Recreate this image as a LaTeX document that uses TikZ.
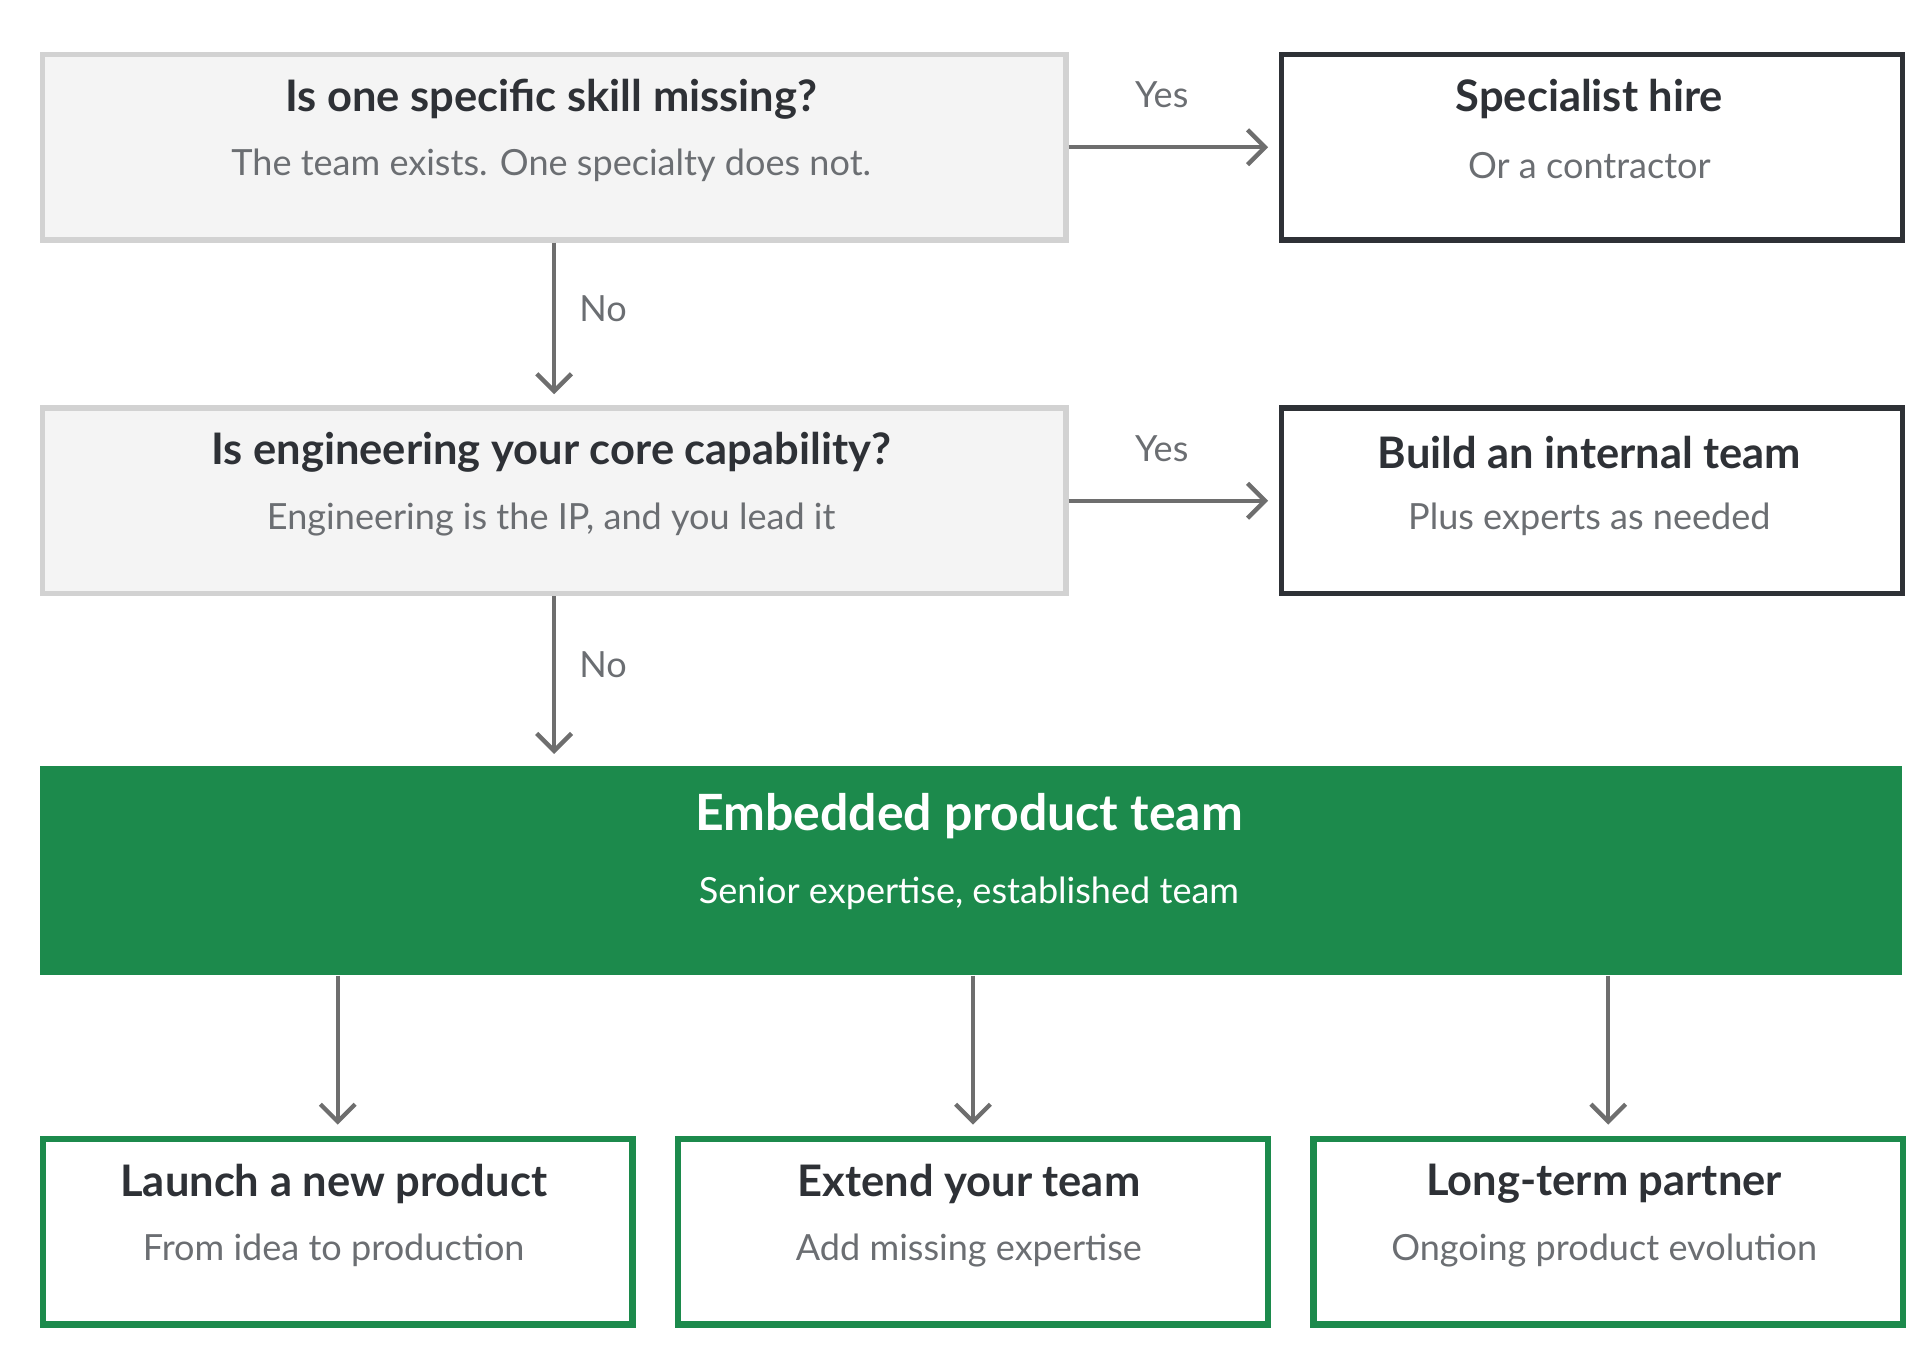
\documentclass[tikz,border=0pt]{standalone}
\usepackage{fontspec}
\setmainfont{Lato}
\usetikzlibrary{arrows.meta}
\definecolor{qfill}{HTML}{F4F4F4}
\definecolor{qline}{HTML}{D2D2D2}
\definecolor{dark}{HTML}{2E3136}
\definecolor{sub}{HTML}{6B6E72}
\definecolor{green}{HTML}{1C8A4C}
\definecolor{arr}{HTML}{6E6E6E}
\tikzset{
  qbox/.style={draw=qline,fill=qfill,line width=1.2pt,minimum width=8.28cm,minimum height=1.5cm,anchor=north west},
  abox/.style={draw=dark,line width=1.2pt,minimum width=5.02cm,minimum height=1.5cm,anchor=north west},
  gbox/.style={draw=green,line width=1.5pt,minimum width=4.77cm,minimum height=1.5cm,anchor=north west},
  ttl/.style={font=\bfseries\fontsize{10pt}{12pt}\selectfont,text=dark},
  subt/.style={font=\fontsize{8.3pt}{10pt}\selectfont,text=sub},
  lbl/.style={font=\fontsize{8.3pt}{10pt}\selectfont,text=sub},
  link/.style={draw=arr,line width=1pt,-{Straight Barb[length=4pt,width=8pt]},shorten >=0.09cm}
}
\begin{document}
\begin{tikzpicture}[x=0.01cm,y=-0.01cm]
  \useasboundingbox (0,0) rectangle (1560,1104);
  % questions
  \node[qbox] (q1) at (32,42) {};
  \node[ttl] (q1t) at (446,80) {Is one specific skill missing?};
  \node[subt] (q1s) at (446,134) {The team exists. One specialty does not.};
  \node[qbox] (q2) at (32,328) {};
  \node[ttl] (q2t) at (446,366) {Is engineering your core capability?};
  \node[subt] (q2s) at (446,420) {Engineering is the IP, and you lead it};
  % answers
  \node[abox] (spec) at (1035,42) {};
  \node[ttl] (spect) at (1286,80) {Specialist hire};
  \node[subt] (specs) at (1286,134) {Or a contractor};
  \node[abox] (build) at (1035,328) {};
  \node[ttl] (buildt) at (1286,366) {Build an internal team};
  \node[subt] (builds) at (1286,420) {Plus experts as needed};
  % embedded
  \node[fill=green,minimum width=15.05cm,minimum height=1.69cm,anchor=north west] (emb) at (32,619) {};
  \node[ttl,text=white,font=\bfseries\fontsize{11.5pt}{13pt}\selectfont] (embt) at (784,660) {Embedded product team};
  \node[subt,text=white] (embs) at (784,723) {Senior expertise, established team};
  % options
  \node[gbox] (launch) at (32,919) {};
  \node[ttl] (launcht) at (270,958) {Launch a new product};
  \node[subt] (launchs) at (270,1012) {From idea to production};
  \node[gbox] (extend) at (546,919) {};
  \node[ttl] (extendt) at (784,958) {Extend your team};
  \node[subt] (extends) at (784,1012) {Add missing expertise};
  \node[gbox] (partner) at (1060,919) {};
  \node[ttl] (partnert) at (1298,958) {Long-term partner};
  \node[subt] (partners) at (1298,1012) {Ongoing product evolution};
  % connectors
  \draw[link] (q1.east) -- (spec.west);
  \node[lbl] (y1) at (940,77) {Yes};
  \draw[link] (q2.east) -- (build.west);
  \node[lbl] (y2) at (940,363) {Yes};
  \draw[link] (q1.south) -- (q2.north);
  \node[lbl] (n1) at (488,250) {No};
  \draw[link] (q2.south) -- (q2.south |- emb.north);
  \node[lbl] (n2) at (488,538) {No};
  \draw[link] (launch.north |- emb.south) -- (launch.north);
  \draw[link] (extend.north |- emb.south) -- (extend.north);
  \draw[link] (partner.north |- emb.south) -- (partner.north);
\end{tikzpicture}
\end{document}
